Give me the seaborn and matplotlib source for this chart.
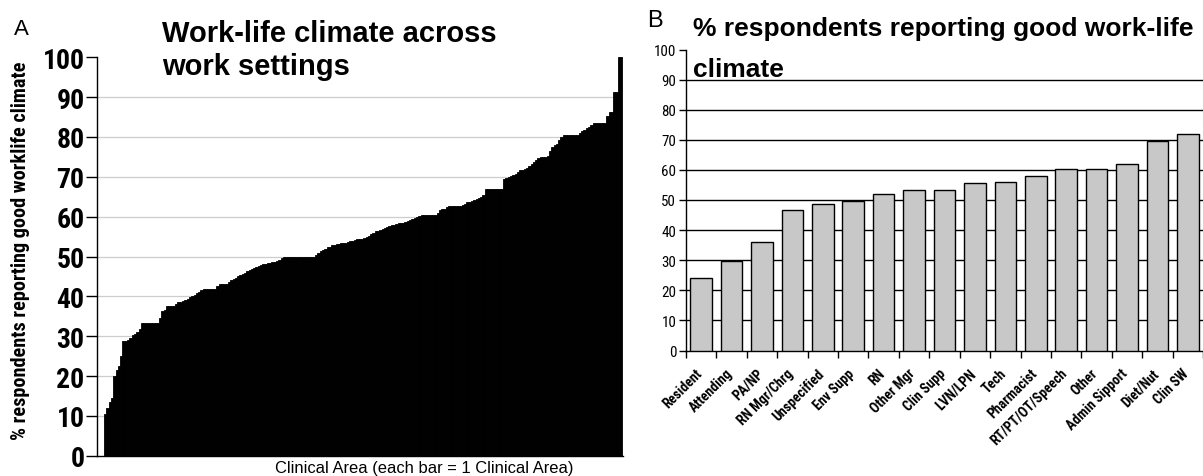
import matplotlib
matplotlib.use("Agg")
import matplotlib.pyplot as plt
from matplotlib import font_manager
from matplotlib.ticker import FixedLocator, NullFormatter
import matplotlib.transforms as mtransforms
import numpy as np
import pandas as pd
import seaborn as sns

# ---------------- data ----------------
# Panel A: % respondents reporting good work-life climate, one bar per clinical area (sorted)
area_values = [
    10.5, 12, 13.5, 14.5, 20, 21.5, 22.5, 25, 28.7, 28.9, 29.1, 29.5,
    30.2, 30.5, 31, 31.7, 33.3, 33.3, 33.3, 33.3, 33.3, 33.3, 33.3, 33.3,
    34.5, 36.3, 36.6, 37.5, 37.5, 37.5, 37.5, 38, 38.5, 38.7, 38.9, 39.2,
    39.4, 39.8, 40.1, 40.3, 40.8, 41, 41.5, 41.9, 41.9, 41.9, 41.9, 41.9,
    41.9, 42.5, 43.1, 43.1, 43.1, 43.1, 43.6, 44, 44.3, 44.7, 45, 45.3,
    45.6, 45.9, 46.3, 46.6, 46.9, 47.1, 47.3, 47.5, 47.8, 48, 48.2, 48.3,
    48.4, 48.5, 48.6, 48.9, 49.2, 49.6, 50, 50, 50, 50, 50, 50,
    50, 50, 50, 50, 50, 50, 50, 50, 50.5, 51, 51.3, 51.6, 51.9, 52.3,
    52.5, 52.8, 53, 53.1, 53.2, 53.3, 53.4, 53.5, 53.7, 53.8, 54, 54.1,
    54.3, 54.4, 54.5, 54.6, 54.8, 55.2, 55.7, 56, 56.3, 56.5, 56.7, 57,
    57.2, 57.4, 57.6, 57.8, 58, 58.2, 58.3, 58.4, 58.5, 58.6, 58.8, 59.1,
    59.3, 59.6, 59.9, 60.2, 60.4, 60.4, 60.4, 60.4, 60.4, 60.4, 60.4, 61,
    61.6, 61.8, 62, 62.3, 62.7, 62.7, 62.7, 62.7, 62.7, 62.7, 63, 63.3,
    63.6, 63.8, 64, 64.3, 64.5, 64.7, 65, 65.5, 67, 67, 67, 67,
    67, 67, 67, 67, 69.5, 69.7, 69.9, 70.2, 70.5, 70.8, 71.2, 71.6,
    71.6, 71.9, 72.3, 72.8, 73.3, 73.8, 74.3, 74.8, 75.1, 75.1, 75.1, 75.3,
    76.5, 77.5, 78, 78.2, 79.2, 80.1, 80.5, 80.5, 80.5, 80.5, 80.5, 80.5,
    80.5, 81, 81.5, 81.8, 82.2, 82.6, 83, 83.4, 83.6, 83.6, 83.6, 83.6,
    83.6, 85.2, 86.3, 86.3, 91.2, 91.2, 100, 100,
]
area_ids = list(range(len(area_values)))

# Panel B: by job category
job_categories = [
    "Resident", "Attending", "PA/NP", "RN Mgr/Chrg", "Unspecified", "Env Supp",
    "RN", "Other Mgr", "Clin Supp", "LVN/LPN", "Tech", "Pharmacist",
    "RT/PT/OT/Speech", "Other", "Admin Sipport", "Diet/Nut", "Clin SW",
]
job_values = [24.1, 29.8, 36.0, 46.7, 48.7, 49.8, 52.0, 53.4, 53.4, 55.7,
              55.9, 58.1, 60.4, 60.4, 61.8, 69.6, 72.0]

y_ticks = [0, 10, 20, 30, 40, 50, 60, 70, 80, 90, 100]

title_a_1 = "Work-life climate across"
title_a_2 = "work settings"
ylabel_a = "% respondents reporting good worklife climate"
xlabel_a = "Clinical Area (each bar = 1 Clinical Area)"
title_b_1 = "% respondents reporting good work-life"
title_b_2 = "climate"

# ---------------- style ----------------
sns.set_theme(style="white")
names = {f.name for f in font_manager.fontManager.ttflist}
base = "Liberation Sans" if "Liberation Sans" in names else "DejaVu Sans"
narrow = base
for cand in ["Liberation Sans Narrow", "Arial Narrow", "Roboto Condensed",
             "Noto Sans Condensed", "Open Sans Condensed", "DejaVu Sans Condensed",
             "Noto Sans Display Condensed"]:
    if cand in names:
        narrow = cand
        break
has_narrow = narrow != base
plt.rcParams["font.family"] = [base, "DejaVu Sans"]

W, H = 1203, 477
fig = plt.figure(figsize=(W / 100, H / 100), dpi=100)
fig.patch.set_facecolor("white")


def px_axes(left, top, right, bottom):
    return fig.add_axes([left / W, 1 - bottom / H, (right - left) / W, (bottom - top) / H])


# ---------------- Panel A ----------------
axA = px_axes(97, 58.3, 623, 456.7)
dfA = pd.DataFrame({"area": area_ids, "value": area_values})
sns.barplot(data=dfA, x="area", y="value", color="black", saturation=1,
            width=1.0, edgecolor="black", linewidth=0.6, ax=axA, zorder=3)
n = len(area_values)
axA.set_xlim(-3.6, n - 0.5 + 0.3)
axA.set_ylim(0, 100)
axA.set_yticks(y_ticks)
axA.set_xticks([])
axA.set_xlabel("")
axA.set_ylabel("")
for y in y_ticks[1:-1]:
    axA.axhline(y, color="#cdcdcd", lw=0.9, zorder=1)
for s in ["top", "right"]:
    axA.spines[s].set_visible(False)
for s in ["left", "bottom"]:
    axA.spines[s].set_color("black")
    axA.spines[s].set_linewidth(1.0)
axA.tick_params(axis="y", direction="out", length=8, width=1, color="black", pad=1,
                left=True)
for lab in axA.get_yticklabels():
    lab.set_fontfamily([narrow, "DejaVu Sans"])
    lab.set_fontweight("bold")
    lab.set_fontsize(20 if has_narrow else 18)
    lab.set_color("black")

fig.text(21 / W, 1 - 251 / H, ylabel_a, rotation=90, ha="center", va="center",
         fontsize=14.6 if has_narrow else 12.9, fontweight="bold",
         family=[narrow, "DejaVu Sans"], color="black")
fig.text(424 / W, 1 - 469 / H, xlabel_a, ha="center", va="center", fontsize=11.9,
         color="black")
fig.text(162 / W, 1 - 42 / H, title_a_1, ha="left", va="baseline", fontsize=21,
         fontweight="bold", color="black")
fig.text(162 / W, 1 - 75 / H, title_a_2, ha="left", va="baseline", fontsize=21,
         fontweight="bold", color="black")
fig.text(14 / W, 1 - 35 / H, "A", ha="left", va="baseline", fontsize=16, color="black")

# ---------------- Panel B ----------------
axB = px_axes(686, 50.5, 1203, 351.5)
dfB = pd.DataFrame({"job": job_categories, "value": job_values})
sns.barplot(data=dfB, x="job", y="value", color="#c8c8c8", saturation=1,
            width=0.71, edgecolor="black", linewidth=1.0, ax=axB, zorder=3)
axB.set_xlim(-0.5, len(job_categories) - 0.5)
axB.set_ylim(0, 100)
axB.set_yticks(y_ticks)
axB.set_xlabel("")
axB.set_ylabel("")
for y in y_ticks[1:-1]:
    axB.axhline(y, color="black", lw=1.0, zorder=1)
for s in ["top", "right"]:
    axB.spines[s].set_visible(False)
for s in ["left", "bottom"]:
    axB.spines[s].set_color("black")
    axB.spines[s].set_linewidth(1.0)
axB.xaxis.set_minor_locator(FixedLocator(np.arange(-0.5, len(job_categories), 1.0)))
axB.xaxis.set_minor_formatter(NullFormatter())
axB.tick_params(axis="x", which="major", length=0, pad=11)
axB.tick_params(axis="x", which="minor", direction="out", length=5, width=1,
                color="black", bottom=True)
axB.tick_params(axis="y", direction="out", length=5, width=1, color="black", pad=2,
                left=True)
for lab in axB.get_yticklabels():
    lab.set_fontfamily([narrow, "DejaVu Sans"])
    lab.set_fontsize(10.8 if has_narrow else 9)
    lab.set_color("black")
axB.set_xticks(range(len(job_categories)))
axB.set_xticklabels(job_categories, rotation=45, ha="right", rotation_mode="anchor",
                    fontsize=10 if has_narrow else 8.5, fontweight="bold",
                    family=[narrow, "DejaVu Sans"], color="black")
shift = mtransforms.ScaledTranslation(-6 / 100, 0, fig.dpi_scale_trans)
for lab in axB.get_xticklabels():
    lab.set_transform(lab.get_transform() + shift)

fig.text(693 / W, 1 - 36 / H, title_b_1, ha="left", va="baseline", fontsize=19,
         fontweight="bold", color="black")
fig.text(693 / W, 1 - 77 / H, title_b_2, ha="left", va="baseline", fontsize=19,
         fontweight="bold", color="black", zorder=5)
fig.text(647 / W, 1 - 27 / H, "B", ha="left", va="baseline", fontsize=17, color="black")

fig.savefig("out.png", dpi=100, facecolor="white")
